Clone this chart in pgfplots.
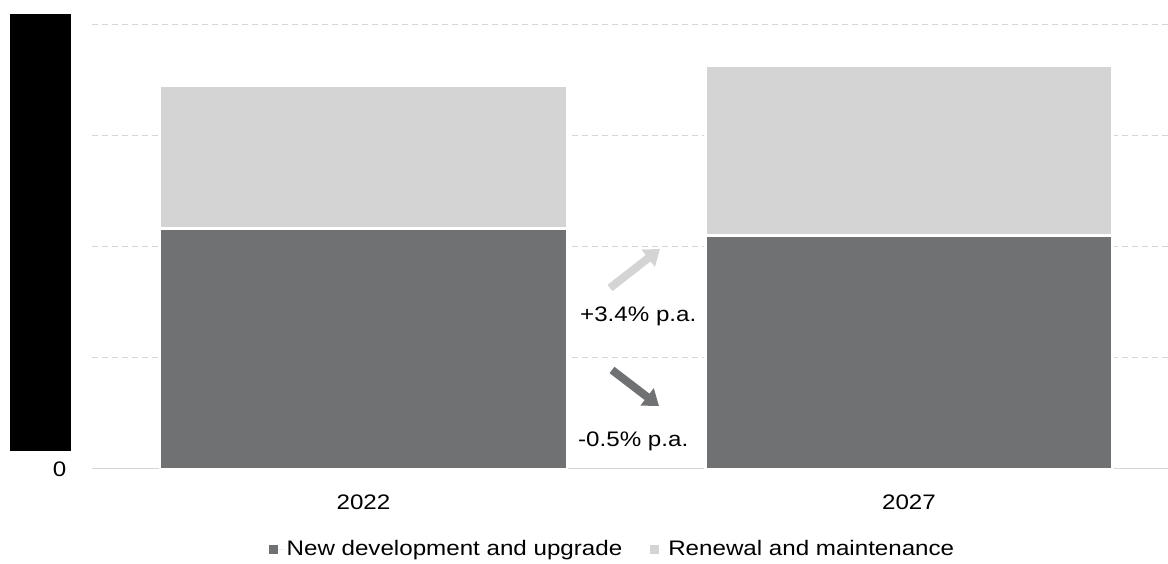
\documentclass[border=0pt]{standalone}
\usepackage{pgfplots}
\pgfplotsset{compat=1.18}
\usepackage{fontspec}
\setmainfont{Liberation Sans}[FakeStretch=1.15]
\usetikzlibrary{arrows.meta}

\definecolor{darkbar}{HTML}{707173}
\definecolor{lightbar}{HTML}{D4D4D4}
\definecolor{gridc}{HTML}{D6D6D6}

\begin{document}
\fontsize{21pt}{25pt}\selectfont
\begin{tikzpicture}[x=1pt,y=1pt]
\useasboundingbox (0,0) rectangle (1168,564);
\begin{axis}[
  at={(92pt,95pt)}, anchor=south west,
  width=1076pt, height=444pt, scale only axis,
  xmin=-0.4977, xmax=1.4748, ymin=0, ymax=4,
  ybar stacked, bar width=0.746,
  axis line style={draw=none},
  xtick={0,1}, xticklabels={2022,2027},
  ytick={0,1,2,3,4}, yticklabels={0,,,,},
  major tick length=0pt, tick style={draw=none},
  ymajorgrids, grid style={gridc, line width=1pt, dash pattern=on 6pt off 4pt},
  xticklabel style={font=\fontsize{21pt}{25pt}\selectfont, yshift=-19pt},
  yticklabel style={font=\fontsize{21pt}{25pt}\selectfont, anchor=east, xshift=-18.5pt},
  legend style={at={(0.4837,-0.182)}, anchor=center, draw=none, fill=none,
    font=\fontsize{21pt}{25pt}\selectfont, legend columns=2,
    /tikz/every even column/.append style={column sep=26pt}},
  legend cell align=left,
]
% New development and upgrade
\addplot+[fill=darkbar, draw=white, line width=2.5pt,
  legend image code/.code={\fill[darkbar, draw=none] (0pt,-4.5pt) rectangle (9pt,4.5pt);
    \path[draw=none] (0pt,0pt) -- (16pt,0pt);}]
  coordinates {(0,2.165) (1,2.103)};
% Renewal and maintenance
\addplot+[fill=lightbar, draw=white, line width=2.5pt,
  legend image code/.code={\fill[lightbar, draw=none] (0pt,-4.5pt) rectangle (9pt,4.5pt);
    \path[draw=none] (0pt,0pt) -- (16pt,0pt);}]
  coordinates {(0,1.285) (1,1.527)};
\legend{New development and upgrade, Renewal and maintenance}
% baseline
\draw[gridc, line width=2pt] (axis cs:-0.4977,0) -- (axis cs:1.4748,0);
\end{axis}
% masked axis labels
\fill[black] (10,113) rectangle (71,550);
% growth annotations
\draw[lightbar, line width=8pt, -{Triangle[length=15pt,width=21pt]}] (610,276) -- (660,315);
\node[anchor=base west, inner sep=0pt] at (580,242) {+3.4\% p.a.};
\draw[darkbar, line width=8pt, -{Triangle[length=15pt,width=21pt]}] (612,194) -- (659,158);
\node[anchor=base west, inner sep=0pt] at (578,117) {-0.5\% p.a.};
\end{tikzpicture}
\end{document}
